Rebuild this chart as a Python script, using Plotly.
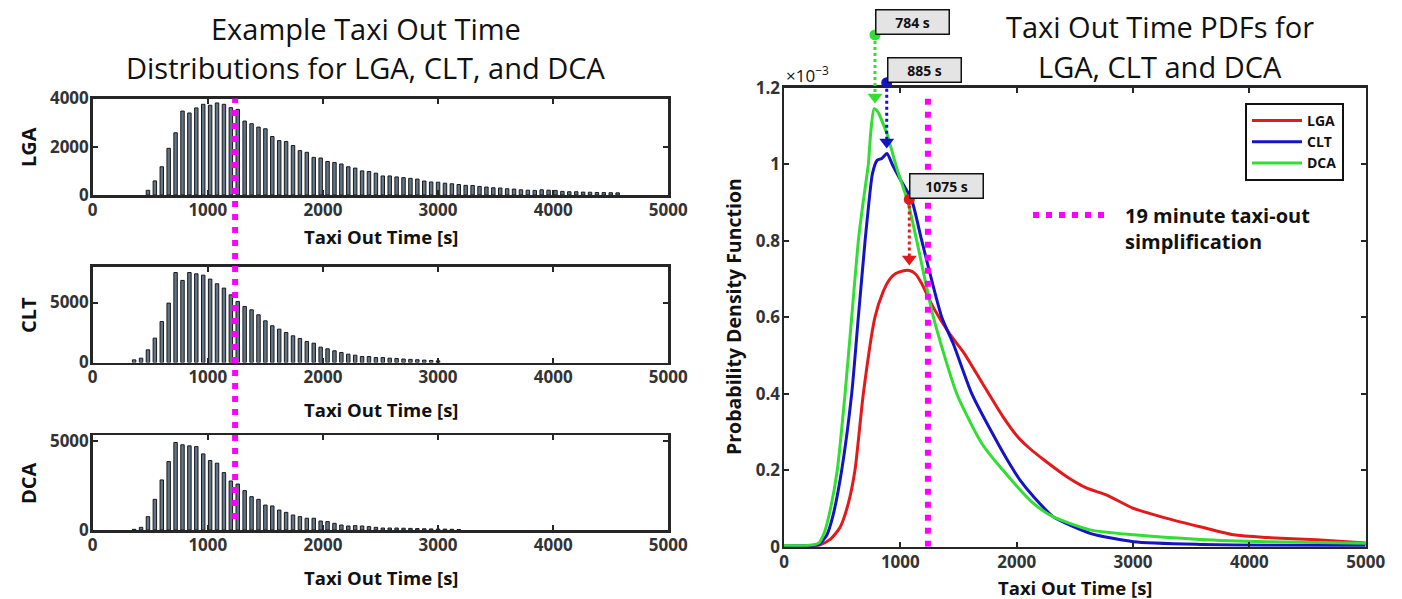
import plotly.graph_objects as go

# ---------------- data ----------------
# Histogram bin centres (minutes) and counts
lga_minutes = list(range(8, 77))
lga_counts = [196, 585, 1170, 1935, 2580, 3480, 3400, 3610, 3760, 3720, 3815, 3760, 3620, 3550,
              3065, 2955, 2815, 2745, 2425, 2255, 2215, 2050, 1840, 1770, 1560, 1535, 1390, 1350,
              1285, 1170, 1115, 1000, 975, 905, 790, 790, 750, 720, 690, 660, 580, 540, 530, 490,
              465, 435, 400, 395, 355, 330, 300, 290, 260, 245, 215, 200, 190, 215, 200, 190, 150,
              135, 135, 120, 115, 105, 100, 95, 90]
clt_minutes = list(range(6, 51))
clt_counts = [220, 360, 1055, 2030, 3420, 4950, 7500, 6840, 7500, 7390, 7280, 6950, 6560, 6200,
              5640, 5090, 4670, 4390, 3975, 3475, 3060, 2780, 2500, 2225, 2000, 1750, 1610, 1280,
              1140, 975, 835, 695, 610, 500, 500, 415, 415, 360, 335, 290, 260, 230, 200, 170, 140]
dca_minutes = list(range(6, 54))
dca_counts = [37, 150, 750, 1720, 2810, 3840, 4910, 4780, 4720, 4680, 4270, 3900, 3750, 3220,
              2750, 2580, 2210, 1870, 1720, 1400, 1350, 1120, 990, 840, 750, 660, 660, 505, 470,
              375, 280, 225, 245, 225, 190, 150, 110, 110, 110, 100, 90, 80, 70, 60, 55, 50, 40, 30]

# PDF curves (x in s, y in 1e-3)
time_lga = [0, 250, 310, 400, 481, 550, 610, 682, 782, 850, 911, 960, 1020, 1078, 1130, 1180,
            1284, 1427, 1550, 1700, 1886, 2001, 2100, 2230, 2431, 2603, 2775, 3004, 3291, 3577,
            3864, 4150, 4579, 5000]
pdf_lga = [0, 0.001, 0.005, 0.02, 0.05, 0.11, 0.2, 0.4, 0.6, 0.665, 0.70, 0.714, 0.721, 0.722,
           0.713, 0.69, 0.625, 0.555, 0.505, 0.43, 0.338, 0.29, 0.26, 0.228, 0.183, 0.153, 0.135,
           0.100, 0.074, 0.052, 0.031, 0.024, 0.018, 0.010]
time_clt = [0, 250, 300, 367, 420, 496, 582, 639, 697, 730, 760, 800, 840, 885, 930, 1000, 1098,
            1184, 1356, 1456, 1614, 1857, 1943, 2029, 2144, 2316, 2631, 3004, 3577, 4150, 5000]
pdf_clt = [0.002, 0.003, 0.006, 0.03, 0.08, 0.2, 0.4, 0.6, 0.8, 0.9, 0.975, 1.01, 1.015, 1.028,
           1.0, 0.96, 0.906, 0.8, 0.6, 0.53, 0.4, 0.26, 0.215, 0.174, 0.131, 0.078, 0.035, 0.013,
           0.006, 0.004, 0.003]
time_dca = [0, 200, 300, 350, 400, 458, 525, 582, 639, 680, 725, 745, 774, 800, 884, 969, 1066,
            1141, 1284, 1485, 1700, 1857, 2144, 2316, 2631, 3004, 3577, 4150, 5000]
pdf_dca = [0.003, 0.003, 0.01, 0.04, 0.10, 0.2, 0.4, 0.6, 0.8, 0.9, 1.0, 1.08, 1.145, 1.14, 1.08,
           0.99, 0.9, 0.8, 0.6, 0.4, 0.27, 0.209, 0.113, 0.078, 0.044, 0.031, 0.019, 0.013, 0.009]

# Peak call-outs (LGA, CLT, DCA)
peak_labels = ["1075 s", "885 s", "784 s"]
peak_time = [1077, 883, 782]
peak_value = [0.722, 1.028, 1.146]
marker_value = [0.908, 1.213, 1.338]
simplification_s = 1237

airports = ["LGA", "CLT", "DCA"]
colors = ["#e31a1c", "#1414c4", "#33dd33"]

# ---------------- layout geometry ----------------
W, H = 1402, 599
def px_x(p): return p / W
def px_y(p): return 1 - p / H

left_x = [px_x(92.7), px_x(668.3)]
hist_dom = [[px_y(195), px_y(98.5)], [px_y(362.5), px_y(266.5)], [px_y(530), px_y(435)]]
hist_range = [[0, 4000], [0, 8000], [0, 5330]]
hist_ticks = [[0, 2000, 4000], [0, 5000], [0, 5000]]
right_x = [px_x(784), px_x(1365.7)]
right_y = [px_y(546.7), px_y(87.7)]

AX = "#262626"
FONT = "Open Sans"
bar_fill = "#637489"

fig = go.Figure()
hist_data = [(lga_minutes, lga_counts), (clt_minutes, clt_counts), (dca_minutes, dca_counts)]
for i, (mins, cnts) in enumerate(hist_data):
    xa = "x" if i == 0 else f"x{i+3}"
    ya = "y" if i == 0 else f"y{i+3}"
    fig.add_trace(go.Bar(x=[m * 60 for m in mins], y=cnts, width=30,
                         marker=dict(color=bar_fill, line=dict(color="#1a1a1a", width=1)),
                         xaxis=xa, yaxis=ya, showlegend=False))

pdf_data = [(time_lga, pdf_lga), (time_clt, pdf_clt), (time_dca, pdf_dca)]
for name, col, (t, v) in zip(airports, colors, pdf_data):
    fig.add_trace(go.Scatter(x=t, y=v, mode="lines", name=name,
                             line=dict(color=col, width=3, shape="spline", smoothing=0.6),
                             xaxis="x2", yaxis="y2"))

# call-out markers on an unclipped overlay axis
for lab, t, pv, mv, col in zip(peak_labels, peak_time, peak_value, marker_value, colors):
    fig.add_trace(go.Scatter(x=[t, t], y=[mv, pv + 0.03], mode="lines",
                             line=dict(color=col, width=3, dash="dot"),
                             xaxis="x2", yaxis="y3", showlegend=False, hoverinfo="skip"))
    fig.add_trace(go.Scatter(x=[t], y=[mv], mode="markers",
                             marker=dict(color=col, size=11, symbol="circle"),
                             xaxis="x2", yaxis="y3", showlegend=False, hoverinfo="skip"))
    fig.add_trace(go.Scatter(x=[t], y=[pv + 0.03], mode="markers",
                             marker=dict(color=col, size=13, symbol="triangle-down"),
                             xaxis="x2", yaxis="y3", showlegend=False, hoverinfo="skip"))
    fig.add_annotation(x=t, y=mv, xref="x2", yref="y3", text=f"<b>{lab}</b>", showarrow=False,
                       xanchor="left", yanchor="bottom", bgcolor="#e4e4e4", bordercolor="#111",
                       borderwidth=1.5, borderpad=2, width=68,
                       font=dict(family=FONT, size=14, color="#111"))

axis_common = dict(showline=True, linecolor=AX, linewidth=2.5, mirror="ticks", ticks="inside",
                   ticklen=5, tickwidth=2, tickcolor=AX, showgrid=False, zeroline=False,
                   automargin=False, ticklabelstandoff=-2,
                   tickfont=dict(family=FONT, size=17, color="#333", weight="bold"))

layout = dict(template="none", width=W, height=H, margin=dict(l=0, r=0, t=0, b=0, pad=0),
              plot_bgcolor="rgba(0,0,0,0)", paper_bgcolor="white", bargap=0,
              showlegend=True,
              legend=dict(x=px_x(1245), y=px_y(103), xanchor="left", yanchor="top",
                          bordercolor="#111", borderwidth=2, bgcolor="white",
                          font=dict(family=FONT, size=14, color="#111", weight="bold"),
                          tracegroupgap=0, itemwidth=50))

hist_axes = [("xaxis", "yaxis", "y", "x"), ("xaxis4", "yaxis4", "y4", "x4"),
             ("xaxis5", "yaxis5", "y5", "x5")]
for i, (xk, yk, yid, xid) in enumerate(hist_axes):
    layout[xk] = dict(axis_common, domain=left_x, range=[0, 5000], anchor=yid,
                      tickvals=[0, 1000, 2000, 3000, 4000, 5000])
    layout[yk] = dict(axis_common, domain=hist_dom[i], range=hist_range[i], anchor=xid,
                      tickvals=hist_ticks[i])

layout["xaxis2"] = dict(axis_common, domain=right_x, range=[0, 5000], anchor="y2",
                        tickvals=[0, 1000, 2000, 3000, 4000, 5000])
layout["yaxis2"] = dict(axis_common, domain=right_y, range=[0, 1.2], anchor="x2",
                        tickvals=[0, 0.2, 0.4, 0.6, 0.8, 1.0, 1.2],
                        ticktext=["0", "0.2", "0.4", "0.6", "0.8", "1", "1.2"])
ext_top = 1.0
scale = (ext_top - right_y[0]) / (right_y[1] - right_y[0])
layout["yaxis3"] = dict(domain=[right_y[0], ext_top], range=[0, 1.2 * scale], anchor="x2",
                        visible=False, showgrid=False, zeroline=False, automargin=False)
fig.update_layout(**layout)

# magenta simplification lines
dash_pat = "6px,7px"
fig.add_shape(type="line", xref="x", yref="paper", x0=simplification_s, x1=simplification_s,
              y0=px_y(519), y1=px_y(98.5), line=dict(color="#ff00ff", width=6, dash=dash_pat),
              layer="above")
fig.add_shape(type="line", xref="x2", yref="y2", x0=simplification_s, x1=simplification_s,
              y0=0, y1=1.18, line=dict(color="#ff00ff", width=6, dash=dash_pat), layer="above")
fig.add_shape(type="line", xref="paper", yref="paper", x0=px_x(1033), x1=px_x(1108),
              y0=px_y(215), y1=px_y(215), line=dict(color="#ff00ff", width=6, dash=dash_pat))

def ann(text, x, y, size, angle=0, bold=False, xanchor="center", align="center"):
    fig.add_annotation(x=x, y=y, xref="paper", yref="paper", text=text, showarrow=False,
                       textangle=angle, xanchor=xanchor, yanchor="middle", align=align,
                       font=dict(family=FONT, size=size, color="#111",
                                 weight="bold" if bold else "normal"))

ann("Example Taxi Out Time", px_x(366), px_y(28), 29)
ann("Distributions for LGA, CLT, and DCA", px_x(366), px_y(67), 29)
ann("Taxi Out Time PDFs for", px_x(1160), px_y(26), 29)
ann("LGA, CLT and DCA", px_x(1160), px_y(66), 29)
for name, yc in zip(airports, [147, 315, 483]):
    ann(name, px_x(28), px_y(yc), 20, angle=-90, bold=True)
for yc in [237, 409, 577]:
    ann("Taxi Out Time [s]", px_x(380.5), px_y(yc), 18.5, bold=True)
ann("Taxi Out Time [s]", px_x(1075), px_y(587), 18.5, bold=True)
ann("Probability Density Function", px_x(733), px_y(317), 19.5, angle=-90, bold=True)
ann("×10<sup>−3</sup>", px_x(784), px_y(75), 17, xanchor="left")
ann("19 minute taxi-out<br>simplification", px_x(1123), px_y(228), 20, bold=True,
    xanchor="left", align="left")

fig.write_html("out.html", post_script="document.body.style.margin='0';",
               config={"displayModeBar": False, "staticPlot": True})
